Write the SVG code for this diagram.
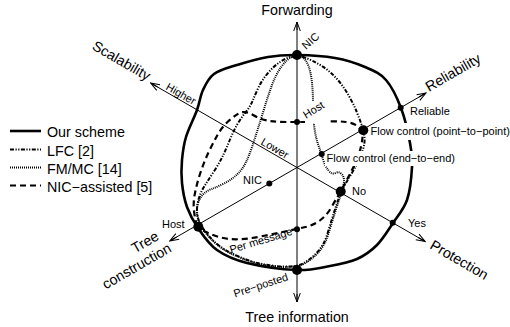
<svg xmlns="http://www.w3.org/2000/svg" width="510" height="327" viewBox="0 0 510 327">
<defs>
<style>
.our{fill:none;stroke:#000;stroke-width:2.6;stroke-linejoin:round}
.lfc{fill:none;stroke:#000;stroke-width:2;stroke-dasharray:4 1.5 1.2 1.5 1.2 1.5}
.fm{fill:none;stroke:#000;stroke-width:2;stroke-dasharray:1 1}
.nic{fill:none;stroke:#000;stroke-width:2.2;stroke-dasharray:6 4}
.axis{fill:none;stroke:#000;stroke-width:1;marker-start:url(#arr);marker-end:url(#arr)}
.big{font-family:"Liberation Sans",Arial,sans-serif;font-size:14.3px;fill:#000}
.sm{font-family:"Liberation Sans",Arial,sans-serif;font-size:11px;fill:#000}
.bg{fill:#fff}
</style>
<marker id="arr" viewBox="-10 -5 11 10" refX="0" refY="0" markerWidth="11" markerHeight="10" markerUnits="userSpaceOnUse" orient="auto-start-reverse">
<path d="M-9,-3.3 L0,0 L-9,3.3 M-8,0 L0,0" fill="none" stroke="#000" stroke-width="1"/>
</marker>
</defs>
<rect width="510" height="327" fill="#fff"/>

<g id="curves">
<path id="our-scheme" class="our" d="M297,55 C308.2,55.2 323.7,56 335,58 C346.3,60 356.5,63.3 365,67 C373.5,70.7 380,73.2 386,80 C392,86.8 397,97.5 401,108 C405,118.5 408.2,133.2 410,143 C411.8,152.8 412.5,157.5 412,167 C411.5,176.5 410.2,190.7 407,200 C403.8,209.3 398,215.5 393,223 C388,230.5 383,239 377,245 C371,251 364.8,255.5 357,259 C349.2,262.5 340,264.2 330,266 C320,267.8 310.8,270.5 297,270 C283.2,269.5 260.3,266.3 247,263 C233.7,259.7 225.2,255.8 217,250 C208.8,244.2 203,235.2 198,228 C193,220.8 189.7,214.5 187,207 C184.3,199.5 182.8,190.8 182,183 C181.2,175.2 181.3,167.7 182,160 C182.7,152.3 183.5,145.3 186,137 C188.5,128.7 194.2,117.8 197,110 C199.8,102.2 200.2,96 203,90 C205.8,84 208.3,78.2 214,74 C219.7,69.8 228,67.8 237,65 C246,62.2 258,58.7 268,57 C278,55.3 285.8,54.8 297,55 Z"/>
<path id="lfc" class="lfc" d="M291.5,56.5 Q297,55 304.5,57.5 Q312,60 321,65.5 Q330,71 337,79 Q344,87 349,96 Q354,105 357,112.5 Q360,120 362,126 Q364,132 364.5,137.5 Q365,143 363,149.5 Q361,156 358,162 Q355,168 351,174.5 Q347,181 344,186.5 Q341,192 339,197.5 Q337,203 334,212.5 Q331,222 327.5,233.5 Q324,245 317.5,252 Q311,259 304,263 Q297,267 283.5,266.5 Q270,266 258.5,263.25 Q247,260.5 233,254 Q219,247.5 209.5,236.75 Q200,226 198,218 Q196,210 198,201.5 Q200,193 204.5,186 Q209,179 214.5,170.5 Q220,162 223.5,154.5 Q227,147 230,139.5 Q233,132 237,125 Q241,118 245.5,112.5 Q250,107 252.5,101 Q255,95 258.5,87.5 Q262,80 268,73 Q274,66 280,62 Q286,58 291.5,56.5 Z"/>
<path id="fmmc" class="fm" d="M292,57 Q297,55 301.5,57 Q306,59 308.5,66 Q311,73 312,83 Q313,93 313,103 Q313,113 314,124 Q315,135 318,144 Q321,153 323,159.5 Q325,166 328.5,170.5 Q332,175 335.5,173 Q339,171 342,174.5 Q345,178 343.5,184.5 Q342,191 340,197 Q338,203 335,212.5 Q332,222 328.5,233.5 Q325,245 318.5,252.25 Q312,259.5 304.5,263.5 Q297,267.5 283.5,267 Q270,266.5 258.5,263.75 Q247,261 233,254.5 Q219,248 209.5,237.25 Q200,226.5 198,218.75 Q196,211 197.5,205 Q199,199 202.5,195 Q206,191 211.5,189 Q217,187 224,183.5 Q231,180 236.5,175 Q242,170 245.5,163 Q249,156 252,147 Q255,138 258,128.5 Q261,119 264.5,107.5 Q268,96 272,85 Q276,74 281.5,66.5 Q287,59 292,57 Z"/>
<path id="nic-assisted" class="nic" d="M196.5,223.5 Q198,228 205,231.5 Q212,235 220,237.25 Q228,239.5 238,239.25 Q248,239 260.5,236.5 Q273,234 285,231.5 Q297,229 305.5,227 Q314,225 320.5,220 Q327,215 331,208 Q335,201 338,196 Q341,191 345.5,182.5 Q350,174 354,166 Q358,158 360,150.5 Q362,143 362.5,137 Q363,131 358.5,127 Q354,123 346,122 Q338,121 328,121.5 Q318,122 307.5,122 Q297,122 287.5,122 Q278,122 270,121 Q262,120 253,115 Q244,110 238.5,113.5 Q233,117 227.5,122 Q222,127 217.5,135 Q213,143 208.5,152.5 Q204,162 200.5,172.5 Q197,183 195,193 Q193,203 194,211 Q195,219 196.5,223.5 Z"/>
</g>

<g id="label-backgrounds">
<rect class="bg" x="369" y="123" width="141" height="17"/>
<rect class="bg" x="325" y="151" width="131" height="15"/>
<rect class="bg" x="305" y="101" width="24" height="22"/>
</g>

<g id="axes">
<line class="axis" x1="297" y1="22" x2="297" y2="302"/>
<line class="axis" x1="169.7" y1="241" x2="426" y2="93"/>
<line class="axis" x1="150.6" y1="83" x2="425.2" y2="241.5"/>
</g>

<g id="points">
<circle cx="297" cy="55" r="5"/>
<circle cx="363.3" cy="130.2" r="5"/>
<circle cx="340.7" cy="191.5" r="5"/>
<circle cx="198.3" cy="226.8" r="5"/>
<circle cx="297" cy="270" r="5"/>
<circle cx="400.7" cy="107.8" r="3"/>
<circle cx="392.7" cy="222.8" r="3"/>
<circle cx="297" cy="122" r="3"/>
<circle cx="321.7" cy="154" r="3"/>
<circle cx="269.3" cy="183.5" r="3"/>
<circle cx="297" cy="229.3" r="3"/>
</g>

<g id="axis-titles">
<text class="big" x="297" y="15" text-anchor="middle">Forwarding</text>
<text class="big" x="297" y="322" text-anchor="middle">Tree information</text>
<text class="big" transform="translate(147,81) rotate(30)" text-anchor="end">Scalability</text>
<text class="big" transform="translate(429,92) rotate(-30)">Reliability</text>
<text class="big" transform="translate(429,248) rotate(30)">Protection</text>
<text class="big" transform="translate(160,239) rotate(-30)" text-anchor="end">Tree</text>
<text class="big" transform="translate(172.5,251) rotate(-30)" text-anchor="end">construction</text>
</g>

<g id="value-labels">
<text class="sm" transform="translate(306,50) rotate(-42)">NIC</text>
<text class="sm" transform="translate(306,119) rotate(-32)">Host</text>
<text class="sm" transform="translate(165,89) rotate(30)">Higher</text>
<text class="sm" transform="translate(260,144) rotate(30)">Lower</text>
<text class="sm" x="410" y="115">Reliable</text>
<text class="sm" x="370.5" y="135">Flow control (point−to−point)</text>
<text class="sm" x="326.5" y="162">Flow control (end−to−end)</text>
<text class="sm" x="352" y="195">No</text>
<text class="sm" x="408" y="226.5">Yes</text>
<text class="sm" x="162" y="227.5">Host</text>
<text class="sm" x="243" y="183.5">NIC</text>
<text class="sm" transform="translate(231,253.5) rotate(-17)">Per message</text>
<text class="sm" transform="translate(235,297.5) rotate(-18)">Pre−posted</text>
</g>

<g id="legend">
<line class="our" x1="10" y1="131" x2="41" y2="131"/>
<line class="lfc" x1="10" y1="149.5" x2="41" y2="149.5"/>
<line class="fm" x1="10" y1="167.5" x2="41" y2="167.5"/>
<line class="nic" x1="10" y1="185.5" x2="41" y2="185.5"/>
<text class="big" x="47" y="137">Our scheme</text>
<text class="big" x="47" y="155.5">LFC [2]</text>
<text class="big" x="47" y="173.5">FM/MC [14]</text>
<text class="big" x="47" y="191.5">NIC−assisted [5]</text>
</g>
</svg>
